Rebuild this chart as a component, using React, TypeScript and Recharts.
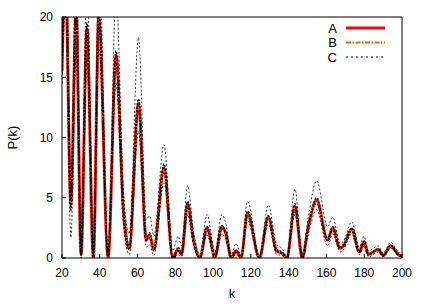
import React from 'react';
import { LineChart, Line, XAxis, YAxis, Legend } from 'recharts';

// wavenumbers where the curves turn (peaks, troughs, shoulders)
const kValues = [
  20, 21.8, 24.7, 27.5, 30.1, 33.2, 36.6, 39.5, 44.4, 48.6,
  52.5, 55.6, 60.5, 64.6, 66.4, 68.6, 74, 78.6, 81.5, 83.3,
  86.5, 89.6, 93, 96.8, 101, 104.6, 106.8, 109.6, 112.2, 114.8,
  118.2, 124.5, 129.2, 133.6, 136.5, 139, 143.3, 147.2, 150.4, 154.8,
  160.6, 163.3, 167.2, 169, 173.4, 177.4, 179.9, 182.2, 187.5, 190,
  194, 199, 200,
];

const seriesA = [
  15.5, 24, 4.5, 20.5, 0.3, 19.0, 0, 20, 0, 16.8,
  4, 0.8, 12.8, 1.5, 1.9, 0.7, 7.5, 0.05, 0.7, 0.3,
  4.5, 1.5, 0, 2.5, 0.1, 2.6, 2.0, 0, 0.6, 0,
  3.7, 0, 3.4, 0.6, 0.4, 0, 4.3, 0, 2.6, 4.8,
  1.5, 2.5, 0.8, 1.0, 2.4, 0.5, 1.35, 0.3, 0.7, 0.2,
  1.0, 0.2, 0.2,
];

const seriesB = [
  15.8, 23.5, 4.2, 20.2, 0.4, 18.8, 0.1, 19.7, 0.1, 16.5,
  4.3, 0.9, 12.5, 1.7, 1.8, 0.8, 7.3, 0.1, 0.8, 0.4,
  4.3, 1.6, 0.05, 2.4, 0.1, 2.5, 2.1, 0.05, 0.5, 0.05,
  3.6, 0.05, 3.3, 0.7, 0.4, 0.05, 4.2, 0.05, 2.7, 4.7,
  1.6, 2.4, 0.9, 1.1, 2.3, 0.6, 1.3, 0.35, 0.7, 0.25,
  0.95, 0.25, 0.2,
];

const seriesC = [
  15.3, 24.5, 4.8, 21, 0.2, 19.5, 0, 20.4, 0, 17.2,
  3.8, 0.7, 13.2, 1.4, 2.1, 0.6, 7.8, 0, 0.6, 0.3,
  4.7, 1.4, 0, 2.6, 0.1, 2.7, 1.9, 0, 0.6, 0,
  3.9, 0, 3.5, 0.5, 0.4, 0, 4.5, 0, 2.5, 5.0,
  1.4, 2.6, 0.8, 1.0, 2.5, 0.5, 1.4, 0.3, 0.75, 0.2,
  1.05, 0.2, 0.2,
];

// second realisation of C, close to the mean
const seriesC2 = [
  16.0, 23, 3.9, 19.8, 0.4, 18.5, 0.1, 19.4, 0.1, 16.2,
  4.4, 1.0, 12.2, 1.8, 1.7, 0.8, 7.1, 0.1, 0.9, 0.4,
  4.2, 1.7, 0.1, 2.3, 0.2, 2.4, 2.2, 0.1, 0.5, 0.1,
  3.5, 0.1, 3.2, 0.7, 0.5, 0.1, 4.0, 0.1, 2.8, 4.5,
  1.7, 2.3, 0.9, 1.1, 2.2, 0.6, 1.25, 0.35, 0.65, 0.25,
  0.9, 0.25, 0.25,
];

// spread of the other C realisations
const seriesCHigh = [
  17.5, 28, 5.5, 26, 1.0, 24, 0.5, 25, 0.5, 22,
  5.5, 2, 18.3, 3.2, 3.5, 1.8, 9.4, 0.6, 1.8, 1.0,
  6, 2.2, 0.3, 3.6, 0.5, 3.6, 2.8, 0.3, 1.2, 0.2,
  4.7, 0.2, 4.4, 1.1, 0.8, 0.2, 5.7, 0.3, 3.4, 6.4,
  2.6, 3.4, 1.2, 1.4, 3.0, 0.9, 1.8, 0.6, 1.0, 0.4,
  1.3, 0.4, 0.4,
];

const seriesCLow = [
  14.5, 21, 1.7, 17.5, 0, 16.5, 0, 17.5, 0, 14.5,
  2.8, 0.3, 10.5, 0.9, 1.1, 0.2, 6.2, 0, 0.3, 0.1,
  3.6, 1.0, 0, 1.9, 0, 2.0, 1.5, 0, 0.3, 0,
  3.1, 0, 2.8, 0.3, 0.2, 0, 3.6, 0, 2.0, 4.0,
  1.0, 2.0, 0.5, 0.7, 2.0, 0.3, 1.0, 0.1, 0.5, 0.1,
  0.8, 0.1, 0.1,
];

const xTicks = [20, 40, 60, 80, 100, 120, 140, 160, 180, 200];
const yTicks = [0, 5, 10, 15, 20];

const chartData = kValues.map((k, i) => ({
  k,
  A: seriesA[i],
  B: seriesB[i],
  C: seriesC[i],
  C2: seriesC2[i],
  CHigh: seriesCHigh[i],
  CLow: seriesCLow[i],
}));

const font = '"Liberation Sans", Arial, sans-serif';

function KeyBox() {
  const rows = [
    { name: 'A', stroke: '#ff0000', width: 3, dash: undefined },
    { name: 'B', stroke: '#ff5f00', width: 2, dash: '5 1.5 1.5 1.5' },
    { name: 'C', stroke: '#000', width: 1, dash: '2 3' },
  ];
  return (
    <svg width={90} height={48} style={{ display: 'block' }}>
      {rows.map((r, i) => (
        <g key={r.name}>
          <text x={37} y={9 + i * 14.5} textAnchor="end" dominantBaseline="central" fontSize={13} fontFamily={font} fill="#000">
            {r.name}
          </text>
          <line x1={46} x2={85} y1={9 + i * 14.5} y2={9 + i * 14.5} stroke={r.stroke} strokeWidth={r.width} strokeDasharray={r.dash} />
        </g>
      ))}
    </svg>
  );
}

export default function App() {
  const tickStyle = { fill: '#000', fontSize: 12, fontFamily: font };
  return (
    <div style={{ position: 'absolute', left: 0, top: 0 }}>
      <LineChart width={436} height={305} data={chartData} margin={{ top: 16, right: 33, bottom: 0, left: 0 }}>
        <XAxis
          xAxisId="bottom"
          dataKey="k"
          type="number"
          domain={[20, 200]}
          ticks={xTicks}
          interval={0}
          allowDataOverflow
          height={47}
          tickSize={-4}
          tickMargin={14}
          stroke="#000"
          tick={tickStyle}
          label={{ value: 'k', position: 'insideBottom', offset: 7, fill: '#000', fontSize: 13, fontFamily: font }}
        />
        <XAxis xAxisId="top" orientation="top" dataKey="k" type="number" domain={[20, 200]} ticks={xTicks} interval={0} height={1} tickSize={-4} tick={false} stroke="#000" />
        <YAxis
          yAxisId="left"
          type="number"
          domain={[0, 20]}
          ticks={yTicks}
          interval={0}
          allowDataOverflow
          width={62}
          tickSize={-4}
          tickMargin={13}
          stroke="#000"
          tick={tickStyle}
          label={{ value: 'P(k)', angle: -90, position: 'insideLeft', offset: 12, fill: '#000', fontSize: 13, fontFamily: font, style: { textAnchor: 'middle' } }}
        />
        <YAxis yAxisId="right" orientation="right" type="number" domain={[0, 20]} ticks={yTicks} interval={0} width={1} tickSize={-4} tick={false} stroke="#000" />
        <Legend
          layout="vertical"
          align="center"
          verticalAlign="middle"
          wrapperStyle={{ left: 300, top: 19, width: 90 }}
          content={() => <KeyBox />}
        />
        <Line xAxisId="bottom" yAxisId="left" type="monotone" dataKey="A" stroke="#ff0000" strokeWidth={3} dot={false} isAnimationActive={false} />
        <Line xAxisId="bottom" yAxisId="left" type="monotone" dataKey="B" stroke="#ff5f00" strokeWidth={2} strokeDasharray="5 1.5 1.5 1.5" dot={false} isAnimationActive={false} />
        <Line xAxisId="bottom" yAxisId="left" type="monotone" dataKey="CHigh" stroke="#000" strokeWidth={0.8} strokeDasharray="2 2" dot={false} isAnimationActive={false} legendType="none" />
        <Line xAxisId="bottom" yAxisId="left" type="monotone" dataKey="CLow" stroke="#000" strokeWidth={0.8} strokeDasharray="2 2" dot={false} isAnimationActive={false} legendType="none" />
        <Line xAxisId="bottom" yAxisId="left" type="monotone" dataKey="C2" stroke="#000" strokeWidth={1.2} strokeDasharray="1.5 1.5" dot={false} isAnimationActive={false} legendType="none" />
        <Line xAxisId="bottom" yAxisId="left" type="monotone" dataKey="C" stroke="#000" strokeWidth={1.5} strokeDasharray="2 1.5" dot={false} isAnimationActive={false} />
      </LineChart>
    </div>
  );
}
